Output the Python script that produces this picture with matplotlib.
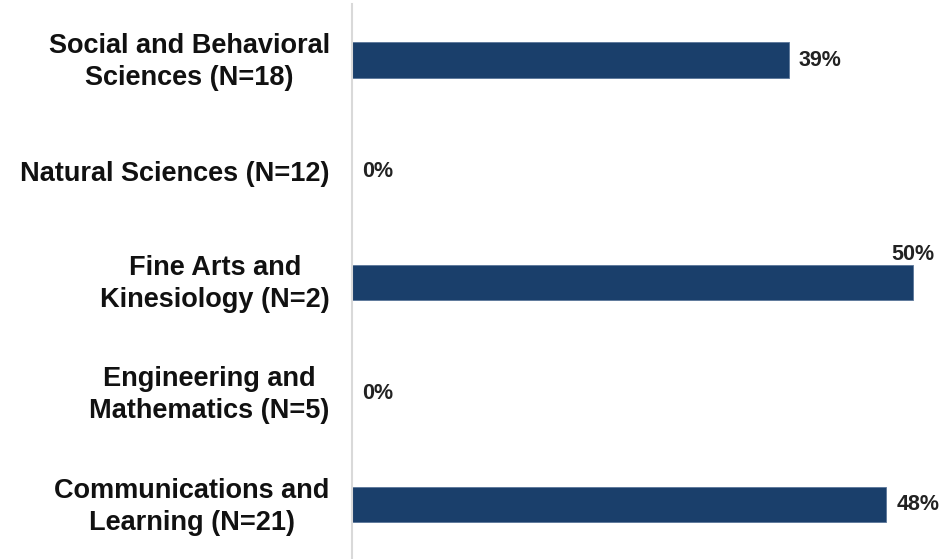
import matplotlib
matplotlib.use("Agg")
import matplotlib.pyplot as plt
import matplotlib.transforms as mtransforms

categories = ["Social and Behavioral\nSciences (N=18)",
              "Natural Sciences (N=12)",
              "Fine Arts and\nKinesiology (N=2)",
              "Engineering and\nMathematics (N=5)",
              "Communications and\nLearning (N=21)"]
values = [38.9, 0.0, 50.0, 0.0, 47.6]
labels = ["39%", "0%", "50%", "0%", "48%"]

W, H, DPI = 940, 559, 100
fig = plt.figure(figsize=(W / DPI, H / DPI), dpi=DPI)
left_px = 352
ax = fig.add_axes([left_px / W, -0.002, (W - left_px) / W, 0.994])

color = "#1A3F6B"
ypos = list(range(len(categories)))
ax.barh(ypos, values, height=0.32, color=color, edgecolor="#5A7699", linewidth=0.6)
ax.set_ylim(len(categories) - 0.5, -0.5)
ax.set_xlim(0, 52.4)

ax.set_yticks(ypos)
ax.set_yticklabels(categories, fontsize=19.5, fontweight="bold", family="Liberation Sans",
                   color="#111111", linespacing=1.3, multialignment="center")
ax.tick_params(axis="y", length=0, pad=16)
ax.tick_params(axis="x", bottom=False, labelbottom=False)
shift = mtransforms.ScaledTranslation(0, 4 / DPI, fig.dpi_scale_trans)
for t in ax.get_yticklabels():
    if "\n" in t.get_text():
        t.set_transform(t.get_transform() + shift)

for s in ["top", "right", "bottom"]:
    ax.spines[s].set_visible(False)
ax.spines["left"].set_color("#D9D9D9")
ax.spines["left"].set_linewidth(1.5)

for y, v, lab in zip(ypos, values, labels):
    if v >= 49.5:
        ax.text(v, y - 0.16, lab, ha="center", va="bottom", fontsize=15.5, fontweight="bold",
                family="Liberation Sans", color="#222222", clip_on=False)
    else:
        ax.annotate(lab, (v, y), xytext=(10, 0), textcoords="offset pixels",
                    ha="left", va="center", fontsize=15.5, fontweight="bold",
                    family="Liberation Sans", color="#222222")

fig.savefig("out.png", dpi=DPI)
